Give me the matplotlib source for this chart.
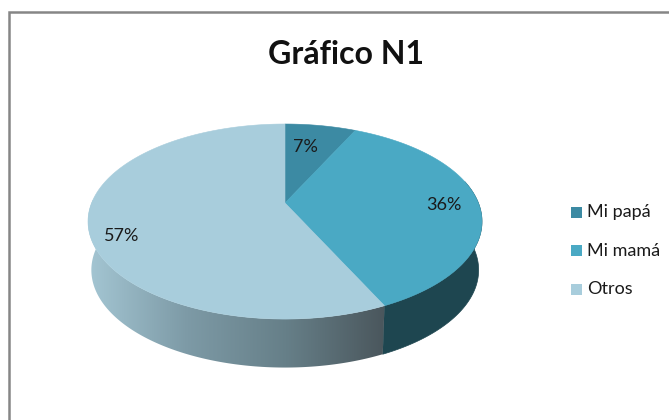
import numpy as np
import matplotlib
matplotlib.use("Agg")
import matplotlib.pyplot as plt
from matplotlib.patches import Polygon, Rectangle
from matplotlib.colors import LinearSegmentedColormap

title = "Gráfico N1"
categories = ["Mi papá", "Mi mamá", "Otros"]
values = [7, 36, 57]
labels = ["7%", "36%", "57%"]
colors = ["#3c8aa3", "#4aa9c4", "#a8cddc"]
side_right = "#1e4650"

plt.rcParams["font.family"] = ["Lato", "DejaVu Sans"]
fig = plt.figure(figsize=(6.69, 4.20), dpi=100)
ax = fig.add_axes([0, 0, 1, 1])
ax.set_xlim(0, 669)
ax.set_ylim(420, 0)
ax.axis("off")

# frame (open on right and bottom)
ax.plot([8.5, 8.5, 669], [420, 11.5, 11.5], color="#868686", lw=1.8, solid_joinstyle="miter")

cx, cy, R, H, k = 285, 203, 193.4, 94, 0.19
depth, shrink = 48.5, 0.983


def rim(t):
    u, v = np.sin(t), np.cos(t)
    s = 1 / (1 + k * v)
    return cx + R * u * s, cy - H * v * s


def low(t):
    x, y = rim(t)
    return cx + (x - cx) * shrink, y + depth


fracs = np.cumsum([0] + values) / sum(values) * 2 * np.pi

# outer wall: the part of the rim facing the viewer
t_r, t_l = np.pi / 2 - 0.19, 3 * np.pi / 2 + 0.19
t_split = fracs[2]

ts = np.linspace(t_r - 0.05, t_split, 80)
xa, ya = rim(ts)
xb, yb = low(ts)
ax.add_patch(Polygon(np.r_[np.c_[xa, ya], np.c_[xb, yb][::-1]], closed=True,
                     fc=side_right, ec=side_right, lw=0.5, zorder=2))

ts = np.linspace(t_split, t_l + 0.05, 160)
xa, ya = rim(ts)
xb, yb = low(ts)
wall = Polygon(np.r_[np.c_[xa, ya], np.c_[xb, yb][::-1]], closed=True,
               fc="none", ec="none", transform=ax.transData)
ax.add_patch(wall)
cmap = LinearSegmentedColormap.from_list("wall", ["#a4c6d3", "#7d9aa6", "#667f88", "#4a565c"])
grad = np.linspace(0, 1, 256).reshape(1, -1)
img = ax.imshow(grad, cmap=cmap, extent=[88, 386, 380, 200], aspect="auto", zorder=2)
img.set_clip_path(wall)
ax.set_xlim(0, 669)
ax.set_ylim(420, 0)

# top face
for i, c in enumerate(colors):
    ts = np.linspace(fracs[i], fracs[i + 1], 200)
    x, y = rim(ts)
    ax.add_patch(Polygon(np.r_[[[cx, cy]], np.c_[x, y]], closed=True, fc=c, ec=c, lw=0.4, zorder=3))

# data labels
label_xy = [(305, 147), (444, 205), (122, 236)]
for (lx, ly), s in zip(label_xy, labels):
    ax.text(lx, ly, s, ha="center", va="center", fontsize=13, color="#1a1a1a", zorder=4)

ax.text(346, 54, title, ha="center", va="center", fontsize=23, fontweight="bold", color="#111111")

# legend
leg_y = [212, 250.5, 289]
for c, name, y in zip(colors, categories, leg_y):
    ax.add_patch(Rectangle((571, y - 5.5), 11, 11, fc=c, ec="none"))
    ax.text(587, y, name, ha="left", va="center", fontsize=13, color="#1a1a1a")

fig.savefig("out.png", dpi=100)
